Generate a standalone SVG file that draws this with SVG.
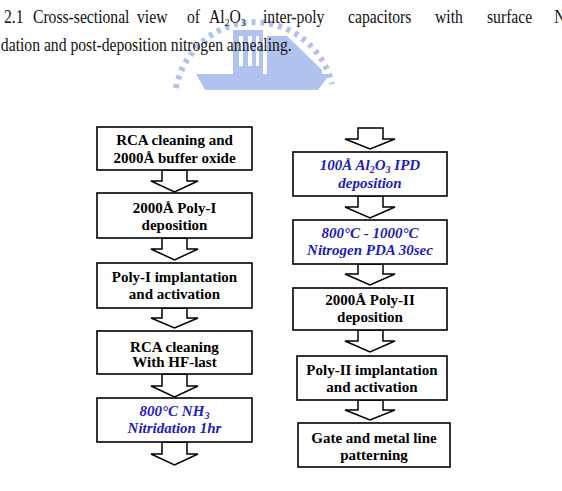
<svg xmlns="http://www.w3.org/2000/svg" width="562" height="491" viewBox="0 0 562 491">
<style>
.cap{font-family:"Liberation Serif",serif;font-size:18px;fill:#111}
.box{fill:#fff;stroke:#000;stroke-width:1.6}
.arr{fill:#fff;stroke:#000;stroke-width:1.5;stroke-linejoin:miter}
.t{font-family:"Liberation Serif",serif;font-size:15px;font-weight:bold;fill:#000;text-anchor:middle}
.b{font-family:"Liberation Serif",serif;font-size:15px;font-weight:bold;font-style:italic;fill:#1c1cc0;text-anchor:middle}
.wm{fill:#9fb3ea}
</style>
<rect width="562" height="491" fill="#fff"/>
<g id="watermark" opacity="0.8">
<path d="M176,88 A80,82 0 0 1 332,84" fill="none" stroke="#9fb3ea" stroke-width="6" stroke-dasharray="4 5"/>
<rect class="wm" x="233" y="30" width="30" height="44"/>
<rect x="239" y="36" width="4" height="30" fill="#fff"/>
<rect x="248" y="36" width="4" height="30" fill="#fff"/>
<rect x="256" y="36" width="3" height="30" fill="#fff"/>
<rect class="wm" x="267" y="36" width="20" height="38"/>
<polygon class="wm" points="287,36 322,70 322,74 287,74"/>
<polygon class="wm" points="196,74 330,74 318,90 205,90"/>
</g>
<g id="caption" transform="scale(0.87 1)">
<text class="cap" x="4.6" y="23">2.1</text>
<text class="cap" x="37.9" y="23">Cross-sectional</text>
<text class="cap" x="157.5" y="23">view</text>
<text class="cap" x="214.9" y="23">of</text>
<text class="cap" x="240.2" y="23">Al<tspan font-size="11" dy="3">2</tspan><tspan dy="-3">O</tspan><tspan font-size="11" dy="3">3</tspan></text>
<text class="cap" x="302.3" y="23">inter-poly</text>
<text class="cap" x="400" y="23">capacitors</text>
<text class="cap" x="500" y="23">with</text>
<text class="cap" x="559.8" y="23">surface</text>
<text class="cap" x="637" y="23">N</text>
<text class="cap" x="1" y="51">dation and post-deposition nitrogen annealing.</text>
</g>
<g id="connectors">
<polygon class="arr" points="162,170 187,170 187,181 198,181 174.5,192 151,181 162,181"/>
<polygon class="arr" points="162,238 187,238 187,249 198,249 174.5,260 151,249 162,249"/>
<polygon class="arr" points="162,308 187,308 187,318 198,318 174.5,328 151,318 162,318"/>
<polygon class="arr" points="162,374 187,374 187,386 198,386 174.5,397 151,386 162,386"/>
<polygon class="arr" points="162,442 187,442 187,454 198,454 174.5,465 151,454 162,454"/>
<polygon class="arr" points="358,128 383,128 383,139 395,139 370,149 345,139 358,139"/>
<polygon class="arr" points="358,196 383,196 383,207 395,207 370,218 345,207 358,207"/>
<polygon class="arr" points="358,264 383,264 383,274 395,274 370,285 345,274 358,274"/>
<polygon class="arr" points="358,330 383,330 383,341 395,341 370,352 345,341 358,341"/>
<polygon class="arr" points="358,400 383,400 383,410 395,410 370,420 345,410 358,410"/>
</g>
<g id="n1"><rect class="box" x="97" y="127" width="155" height="43"/>
<text class="t" x="174.5" y="145">RCA cleaning and</text><text class="t" x="174.5" y="163">2000Å buffer oxide</text></g>
<g id="n2"><rect class="box" x="97" y="193" width="155" height="45"/>
<text class="t" x="174.5" y="213">2000Å Poly-I</text><text class="t" x="174.5" y="230">deposition</text></g>
<g id="n3"><rect class="box" x="97" y="263" width="155" height="45"/>
<text class="t" x="174.5" y="282">Poly-I implantation</text><text class="t" x="174.5" y="299">and activation</text></g>
<g id="n4"><rect class="box" x="97" y="331" width="155" height="43"/>
<text class="t" x="174.5" y="352">RCA cleaning</text><text class="t" x="174.5" y="367">With HF-last</text></g>
<g id="n5"><rect class="box" x="97" y="398" width="155" height="44"/>
<text class="b" x="174.5" y="416">800°C NH<tspan font-size="10" dy="3">3</tspan></text><text class="b" x="174.5" y="433">Nitridation 1hr</text></g>
<g id="n6"><rect class="box" x="293" y="152" width="154" height="44"/>
<text class="b" x="370" y="170">100Å Al<tspan font-size="10" dy="3">2</tspan><tspan dy="-3">O</tspan><tspan font-size="10" dy="3">3</tspan><tspan dy="-3"> IPD</tspan></text><text class="b" x="370" y="188">deposition</text></g>
<g id="n7"><rect class="box" x="293" y="220" width="154" height="44"/>
<text class="b" x="370" y="238">800°C - 1000°C</text><text class="b" x="370" y="255">Nitrogen PDA 30sec</text></g>
<g id="n8"><rect class="box" x="293" y="288" width="154" height="42"/>
<text class="t" x="370" y="305">2000Å Poly-II</text><text class="t" x="370" y="322">deposition</text></g>
<g id="n9"><rect class="box" x="297" y="356" width="150" height="44"/>
<text class="t" x="372" y="375">Poly-II implantation</text><text class="t" x="372" y="392">and activation</text></g>
<g id="n10"><rect class="box" x="298" y="423" width="152" height="44"/>
<text class="t" x="374" y="443">Gate and metal line</text><text class="t" x="374" y="460">patterning</text></g>
</svg>
